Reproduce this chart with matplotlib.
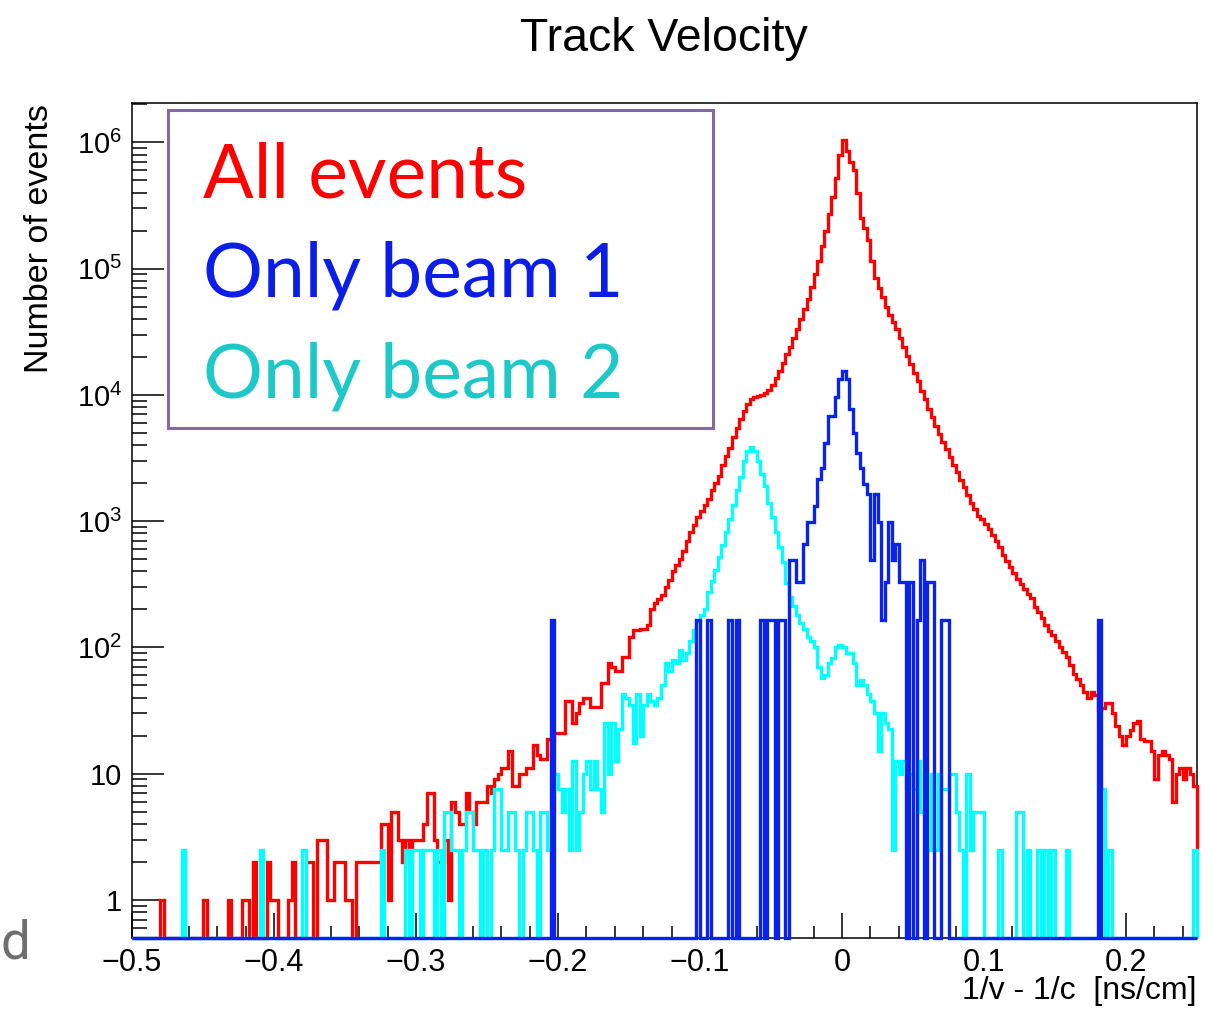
import numpy as np
import matplotlib
matplotlib.use("Agg")
from matplotlib import pyplot as plt
from matplotlib.patches import Rectangle
from matplotlib.ticker import FixedLocator, MultipleLocator, LogLocator, NullFormatter

# binning of the velocity histogram: 300 bins between -0.5 and 0.25 ns/cm
x_lo, x_hi, n_bins = -0.5, 0.25, 300

# per-bin event counts (10 bins per row)
all_counts = [
    0, 0, 0, 0, 0, 0, 0, 0, 1, 0,
    0, 0, 0, 0, 0, 0, 0, 0, 0, 0,
    1, 0, 0, 0, 0, 0, 0, 1, 0, 0,
    0, 1, 1, 0, 2, 0, 0, 0, 2, 1,
    1, 0, 0, 0, 1, 2, 0, 0, 0, 2,
    2, 0, 3, 3, 3, 1, 1, 2, 2, 2,
    1, 1, 0, 2, 2, 2, 2, 2, 2, 2,
    4, 4, 1, 5, 5, 3, 2, 3, 2, 3,
    3, 3, 4, 7, 7, 3, 2, 2, 3, 1,
    6, 5, 4, 4, 7, 5, 4, 6, 6, 6,
    8, 7, 9, 10, 11, 11, 15, 8, 8, 10,
    10, 11, 11, 17, 14, 13, 13, 19, 18, 21,
    21, 21, 38, 38, 25, 30, 36, 40, 40, 34,
    34, 34, 52, 52, 75, 70, 65, 65, 84, 84,
    120, 137, 137, 140, 140, 150, 200, 225, 240, 260,
    300, 340, 400, 450, 500, 580, 700, 820, 930, 1080,
    1200, 1350, 1500, 1750, 2000, 2300, 2800, 3300, 3800, 4600,
    5500, 6500, 7500, 8500, 9200, 9600, 9800, 10000, 10400, 11000,
    12000, 13500, 15500, 18000, 21000, 24000, 28000, 33000, 40000, 48000,
    58000, 72000, 90000, 115000, 150000, 200000, 270000, 370000, 520000, 800000,
    1050000, 850000, 700000, 600000, 400000, 250000, 210000, 170000, 115000, 85000,
    70000, 60000, 50000, 43000, 38000, 33000, 28000, 24000, 20500, 17500,
    15000, 12800, 10800, 9200, 7800, 6700, 5700, 4900, 4200, 3700,
    3200, 2800, 2450, 2100, 1850, 1600, 1400, 1250, 1100, 1050,
    950, 860, 780, 700, 620, 540, 480, 430, 390, 350,
    320, 290, 265, 245, 210, 190, 170, 150, 135, 125,
    112, 100, 92, 84, 72, 62, 56, 50, 44, 40,
    44, 42, 32, 33, 36, 36, 30, 24, 20, 17,
    20, 22, 25, 26, 19, 18, 18, 15, 9, 14,
    15, 14, 13, 6, 10, 11, 9, 11, 10, 8,
]

beam1_counts = [
    0, 0, 0, 0, 0, 0, 0, 0, 0, 0,
    0, 0, 0, 0, 0, 0, 0, 0, 0, 0,
    0, 0, 0, 0, 0, 0, 0, 0, 0, 0,
    0, 0, 0, 0, 0, 0, 0, 0, 0, 0,
    0, 0, 0, 0, 0, 0, 0, 0, 0, 0,
    0, 0, 0, 0, 0, 0, 0, 0, 0, 0,
    0, 0, 0, 0, 0, 0, 0, 0, 0, 0,
    0, 0, 0, 0, 0, 0, 0, 0, 0, 0,
    0, 0, 0, 0, 0, 0, 0, 0, 0, 0,
    0, 0, 0, 0, 0, 0, 0, 0, 0, 0,
    0, 0, 0, 0, 0, 0, 0, 0, 0, 0,
    0, 0, 0, 0, 0, 0, 0, 0, 1, 0,
    0, 0, 0, 0, 0, 0, 0, 0, 0, 0,
    0, 0, 0, 0, 0, 0, 0, 0, 0, 0,
    0, 0, 0, 0, 0, 0, 0, 0, 0, 0,
    0, 0, 0, 0, 0, 0, 0, 0, 0, 1,
    0, 0, 1, 0, 0, 0, 0, 0, 1, 0,
    1, 0, 0, 0, 0, 0, 0, 1, 0, 1,
    1, 0, 1, 1, 0, 3, 3, 2, 2, 4,
    6, 6, 8, 13, 16, 25, 41, 41, 58, 81,
    93, 81, 47, 30, 21, 16, 12, 10, 3, 10,
    6, 1, 2, 6, 3, 4, 2, 2, 0, 2,
    0, 1, 3, 0, 2, 2, 0, 0, 1, 1,
    0, 0, 0, 0, 0, 0, 0, 0, 0, 0,
    0, 0, 0, 0, 0, 0, 0, 0, 0, 0,
    0, 0, 0, 0, 0, 0, 0, 0, 0, 0,
    0, 0, 0, 0, 0, 0, 0, 0, 0, 0,
    0, 0, 1, 0, 0, 0, 0, 0, 0, 0,
    0, 0, 0, 0, 0, 0, 0, 0, 0, 0,
    0, 0, 0, 0, 0, 0, 0, 0, 0, 0,
]

beam2_counts = [
    0, 0, 0, 0, 0, 0, 0, 0, 0, 0,
    0, 0, 0, 0, 1, 0, 0, 0, 0, 0,
    0, 0, 0, 0, 0, 0, 0, 0, 0, 0,
    0, 0, 0, 0, 0, 0, 1, 0, 0, 0,
    0, 0, 0, 0, 0, 0, 0, 0, 1, 0,
    0, 0, 0, 0, 0, 0, 0, 0, 0, 0,
    0, 0, 0, 0, 0, 0, 0, 0, 0, 0,
    1, 0, 0, 0, 0, 0, 0, 1, 0, 1,
    1, 0, 1, 1, 1, 0, 1, 0, 2, 2,
    1, 1, 0, 1, 2, 2, 1, 1, 0, 1,
    0, 1, 3, 3, 1, 1, 2, 2, 1, 0,
    1, 2, 2, 1, 0, 2, 2, 1, 2, 4,
    3, 2, 3, 1, 5, 1, 2, 4, 5, 3,
    5, 3, 2, 10, 4, 10, 5, 9, 17, 16,
    14, 7, 17, 8, 14, 17, 15, 14, 16, 20,
    30, 26, 32, 30, 38, 32, 36, 45, 55, 65,
    72, 80, 110, 135, 165, 210, 260, 330, 420, 540,
    710, 900, 1200, 1450, 1560, 1450, 1200, 950, 760, 560,
    430, 330, 250, 190, 130, 100, 85, 72, 62, 56,
    48, 45, 40, 28, 23, 24, 30, 33, 40, 42,
    40, 36, 36, 30, 20, 22, 20, 17, 15, 12,
    6, 12, 10, 9, 1, 5, 4, 5, 3, 4,
    3, 5, 2, 4, 1, 4, 1, 4, 3, 3,
    4, 4, 2, 1, 0, 4, 1, 2, 2, 2,
    0, 0, 0, 0, 1, 0, 0, 0, 0, 2,
    2, 0, 1, 0, 0, 1, 0, 1, 0, 1,
    0, 0, 0, 1, 0, 0, 0, 0, 0, 0,
    0, 0, 0, 3, 0, 1, 0, 0, 0, 0,
    0, 0, 0, 0, 0, 0, 0, 0, 0, 0,
    0, 0, 0, 0, 0, 0, 0, 0, 0, 1,
]

# the single-beam samples are drawn with an event weight
beam1_weight = 165.0
beam2_weight = 2.5

legend_labels = ["All events", "Only beam 1", "Only beam 2"]
x_ticks = [-0.5, -0.4, -0.3, -0.2, -0.1, 0.0, 0.1, 0.2]
x_tick_labels = ["\u22120.5", "\u22120.4", "\u22120.3", "\u22120.2", "\u22120.1", "0", "0.1", "0.2"]
y_ticks = [1, 10, 1e2, 1e3, 1e4, 1e5, 1e6]
y_tick_labels = ["1", "10", r"$10^{2}$", r"$10^{3}$", r"$10^{4}$", r"$10^{5}$", r"$10^{6}$"]

y_min, y_max = 0.5, 2.05e6

plt.rcParams["font.family"] = ["Liberation Sans", "DejaVu Sans"]
plt.rcParams["mathtext.fontset"] = "custom"
plt.rcParams["mathtext.rm"] = "Liberation Sans"
plt.rcParams["mathtext.it"] = "Liberation Sans:italic"
plt.rcParams["mathtext.bf"] = "Liberation Sans:bold"

W, H = 1214, 1013
fig = plt.figure(figsize=(W / 100, H / 100), dpi=100)
ax = fig.add_axes([132 / W, 1 - 938 / H, (1197 - 132) / W, (938 - 103) / H])

edges = np.linspace(x_lo, x_hi, n_bins + 1)


def on_log_axis(counts, weight=1.0):
    # empty bins sit on the bottom of the frame, as in ROOT
    vals = np.asarray(counts, dtype=float) * weight
    return np.where(vals > 0, vals, y_min)


red = "#ff0000"
cyan = "#00ffff"
blue = "#0a22f0"

series = [
    (on_log_axis(all_counts), red),
    (on_log_axis(beam2_counts, beam2_weight), cyan),
    (on_log_axis(beam1_counts, beam1_weight), blue),
]
for z, (vals, col) in enumerate(series):
    ax.stairs(vals, edges, baseline=y_min, fill=False, color=col,
              lw=2.4, clip_on=False, zorder=3 + z)

ax.set_yscale("log")
ax.set_xlim(x_lo, x_hi)
ax.set_ylim(y_min, y_max)

ax.xaxis.set_major_locator(FixedLocator(x_ticks))
ax.set_xticklabels(x_tick_labels)
ax.xaxis.set_minor_locator(MultipleLocator(0.02))
ax.yaxis.set_major_locator(FixedLocator(y_ticks))
ax.set_yticklabels(y_tick_labels)
ax.yaxis.set_minor_locator(LogLocator(base=10, subs=np.arange(2, 10), numticks=20))
ax.yaxis.set_minor_formatter(NullFormatter())

ax.tick_params(axis="x", which="major", direction="in", length=18, width=1.1,
               labelsize=22, pad=7, top=False)
ax.tick_params(axis="x", which="minor", direction="in", length=9, width=1.1, top=False)
ax.tick_params(axis="y", which="major", direction="in", length=23, width=1.1,
               labelsize=21, pad=7, right=False)
ax.tick_params(axis="y", which="minor", direction="in", length=11, width=1.1, right=False)
for sp in ax.spines.values():
    sp.set_linewidth(1.1)
    sp.set_zorder(2)

fig.text(664 / W, 1 - 51 / H, "Track Velocity", ha="center", va="baseline", fontsize=33.5)
fig.text(40 / W, 1 - 104 / H, "Number of events", rotation=90, ha="center", va="top",
         fontsize=24.5)
fig.text(1197 / W, 1 - 991 / H, "1/v - 1/c  [ns/cm]", ha="right", va="center", fontsize=23)

# legend box with the three sample names
fig.add_artist(Rectangle((168 / W, 1 - 428 / H), (713 - 168) / W, (428 - 110) / H,
                         transform=fig.transFigure, facecolor="white",
                         edgecolor="#8568a8", lw=2.2, zorder=10))
legend_colors = ["#ff0000", "#0a1ee8", "#1ec8c8"]
for k, (lab, col) in enumerate(zip(legend_labels, legend_colors)):
    fig.text(203 / W, 1 - (197 + 100 * k) / H, lab, color=col, ha="left", va="baseline",
             fontsize=54, family=["Lato", "DejaVu Sans"], zorder=11)

# stray letter at the left edge of the slide
fig.text(0.5 / W, 1 - 958 / H, "d", color="#6e6e6e", ha="left", va="baseline",
         fontsize=38, family=["Roboto", "DejaVu Sans"])

plt.savefig("out.png", dpi=100)
plt.close()
